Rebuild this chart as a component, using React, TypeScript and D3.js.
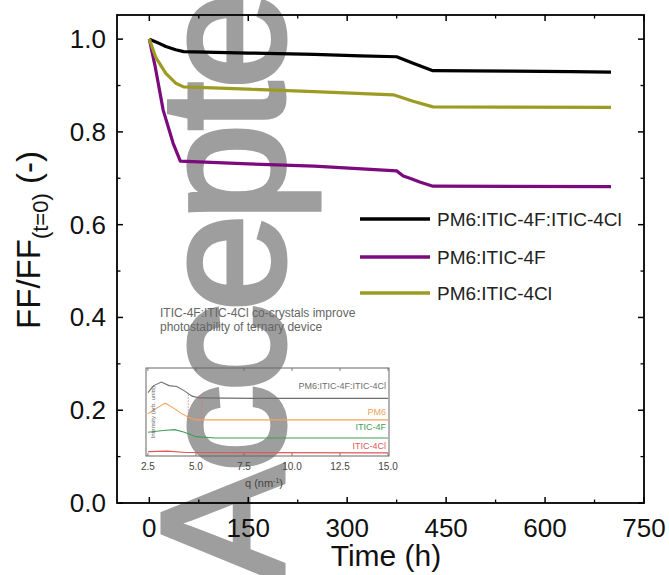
import React from "react";
import * as d3 from "d3";

// ---------- main data ----------
const seriesNames = ["PM6:ITIC-4F:ITIC-4Cl", "PM6:ITIC-4F", "PM6:ITIC-4Cl"];
const seriesColors = ["#000000", "#7a0a7e", "#9c9c24"];

const ternaryT = [0, 10, 25, 40, 52, 150, 250, 320, 375, 400, 430, 550, 640, 700];
const ternaryFF = [1.0, 0.994, 0.984, 0.977, 0.973, 0.97, 0.967, 0.964, 0.962, 0.948, 0.932, 0.931, 0.93, 0.929];

const itic4fT = [0, 9, 21, 36, 47, 150, 250, 375, 385, 395, 410, 430, 700];
const itic4fFF = [1.0, 0.94, 0.847, 0.776, 0.737, 0.731, 0.726, 0.716, 0.705, 0.7, 0.692, 0.683, 0.682];

const itic4clT = [0, 10, 25, 40, 52, 150, 250, 370, 400, 430, 700];
const itic4clFF = [1.0, 0.96, 0.926, 0.905, 0.897, 0.892, 0.887, 0.88, 0.866, 0.854, 0.853];

const xMajorTicks = [0, 150, 300, 450, 600, 750];
const xMinorTicks = [75, 225, 375, 525, 675];
const yMajorTicks = [0, 0.2, 0.4, 0.6, 0.8, 1.0];
const yMinorTicks = [0.1, 0.3, 0.5, 0.7, 0.9];

// ---------- inset data ----------
const insetNames = ["PM6:ITIC-4F:ITIC-4Cl", "PM6", "ITIC-4F", "ITIC-4Cl"];
const insetColors = ["#6e6e6e", "#f2a35a", "#3f9e5a", "#e2575a"];
const insetTicks = [2.5, 5.0, 7.5, 10.0, 12.5, 15.0];
const ternaryQ = [2.5, 2.8, 3.2, 3.6, 4.0, 4.4, 4.8, 5.2, 8, 15];
const ternaryI = [0.72, 0.8, 0.84, 0.8, 0.79, 0.74, 0.68, 0.66, 0.655, 0.655];
const pm6Q = [2.5, 3.0, 3.4, 3.8, 4.2, 4.6, 5.0, 15];
const pm6I = [0.48, 0.55, 0.6, 0.55, 0.49, 0.44, 0.41, 0.41];
const f4Q = [2.5, 3.3, 3.9, 4.4, 5.0, 6.0, 15];
const f4I = [0.27, 0.29, 0.3, 0.27, 0.22, 0.205, 0.205];
const cl4Q = [2.5, 3.5, 4.5, 15];
const cl4I = [0.05, 0.055, 0.04, 0.035];
const insetMarkers = [4.6, 5.3];

const FONT = "'Liberation Sans', Arial, Helvetica, sans-serif";

export default function App() {
  const W = 669;
  const H = 575;
  const x = d3.scaleLinear().domain([-49, 750]).range([117, 644]);
  const y = d3.scaleLinear().domain([0, 1.052]).range([503, 15]);

  const line = d3
    .line<[number, number]>()
    .x((d) => x(d[0]))
    .y((d) => y(d[1]));

  const series = [
    { t: ternaryT, v: ternaryFF },
    { t: itic4fT, v: itic4fFF },
    { t: itic4clT, v: itic4clFF },
  ];

  const left = x.range()[0];
  const right = x.range()[1];
  const top = y.range()[1];
  const bottom = y.range()[0];

  // inset scales
  const qx = d3.scaleLinear().domain([2.4, 15.05]).range([146, 389]);
  const iy = d3.scaleLinear().domain([0, 1]).range([456, 368]);
  const iLine = d3
    .line<[number, number]>()
    .x((d) => qx(d[0]))
    .y((d) => iy(d[1]));
  const insetSeries = [
    { q: ternaryQ, v: ternaryI },
    { q: pm6Q, v: pm6I },
    { q: f4Q, v: f4I },
    { q: cl4Q, v: cl4I },
  ];
  const insetLabelY = [0.79, 0.5, 0.33, 0.11];

  const legendY = [219, 257, 293];

  return (
    <svg width={W} height={H} style={{ position: "absolute", left: 0, top: 0, background: "#fff" }}>
      <rect x={0} y={0} width={W} height={H} fill="#fff" />
      {/* watermark */}
      <text
        transform="translate(283,582) rotate(-90)"
        fontFamily={FONT}
        fontSize={175}
        letterSpacing={-7}
        fill="#9e9e9e"
        stroke="#9e9e9e"
        strokeWidth={5}
      >
        Accepted
      </text>

      {/* data lines */}
      {series.map((s, i) => (
        <path
          key={i}
          d={line(s.t.map((t, j) => [t, s.v[j]] as [number, number])) || ""}
          fill="none"
          stroke={seriesColors[i]}
          strokeWidth={3.2}
          strokeLinejoin="round"
        />
      ))}

      {/* frame */}
      <rect x={left} y={top} width={right - left} height={bottom - top} fill="none" stroke="#000" strokeWidth={1.8} />

      {/* x ticks */}
      {xMajorTicks.map((t) => (
        <g key={"xm" + t}>
          <line x1={x(t)} x2={x(t)} y1={bottom} y2={bottom - 6} stroke="#000" strokeWidth={1.5} />
          <line x1={x(t)} x2={x(t)} y1={top} y2={top + 6} stroke="#000" strokeWidth={1.5} />
          <text x={x(t)} y={537} textAnchor="middle" fontFamily={FONT} fontSize={26} fill="#111">
            {t}
          </text>
        </g>
      ))}
      {xMinorTicks.map((t) => (
        <g key={"xn" + t}>
          <line x1={x(t)} x2={x(t)} y1={bottom} y2={bottom - 3.5} stroke="#000" strokeWidth={1.3} />
          <line x1={x(t)} x2={x(t)} y1={top} y2={top + 3.5} stroke="#000" strokeWidth={1.3} />
        </g>
      ))}
      {/* y ticks */}
      {yMajorTicks.map((v) => (
        <g key={"ym" + v}>
          <line x1={left} x2={left + 6} y1={y(v)} y2={y(v)} stroke="#000" strokeWidth={1.5} />
          <line x1={right} x2={right - 6} y1={y(v)} y2={y(v)} stroke="#000" strokeWidth={1.5} />
          <text x={106} y={y(v) + 9} textAnchor="end" fontFamily={FONT} fontSize={26} fill="#111">
            {v.toFixed(1)}
          </text>
        </g>
      ))}
      {yMinorTicks.map((v) => (
        <g key={"yn" + v}>
          <line x1={left} x2={left + 3.5} y1={y(v)} y2={y(v)} stroke="#000" strokeWidth={1.3} />
          <line x1={right} x2={right - 3.5} y1={y(v)} y2={y(v)} stroke="#000" strokeWidth={1.3} />
        </g>
      ))}

      {/* axis titles */}
      <text x={386} y={566} textAnchor="middle" fontFamily={FONT} fontSize={30} fill="#111">
        Time (h)
      </text>
      <text transform="translate(40,240) rotate(-90)" textAnchor="middle" fontFamily={FONT} fontSize={33} fill="#111">
        FF/FF
        <tspan fontSize={22} dy={8}>
          (t=0)
        </tspan>
        <tspan dy={-8}> (-)</tspan>
      </text>

      {/* legend */}
      {seriesNames.map((n, i) => (
        <g key={n}>
          <line x1={360} x2={430} y1={legendY[i]} y2={legendY[i]} stroke={seriesColors[i]} strokeWidth={3.5} />
          <text x={437} y={legendY[i] + 7} fontFamily={FONT} fontSize={19} fill="#222">
            {n}
          </text>
        </g>
      ))}

      {/* inset annotation */}
      <text x={160} y={317} fontFamily={FONT} fontSize={12} fill="#666">
        ITIC-4F:ITIC-4Cl co-crystals improve
      </text>
      <text x={160} y={331} fontFamily={FONT} fontSize={12} fill="#666">
        photostability of ternary device
      </text>

      {/* inset */}
      <g>
        {insetSeries.map((s, i) => (
          <path
            key={i}
            d={iLine(s.q.map((q, j) => [q, s.v[j]] as [number, number])) || ""}
            fill="none"
            stroke={insetColors[i]}
            strokeWidth={1.1}
          />
        ))}
        {insetMarkers.map((q) => (
          <line key={q} x1={qx(q)} x2={qx(q)} y1={iy(0.7)} y2={iy(0.38)} stroke="#e27070" strokeWidth={0.8} strokeDasharray="1.5,1.5" />
        ))}
        <rect x={qx.range()[0]} y={iy.range()[1]} width={qx.range()[1] - qx.range()[0]} height={iy.range()[0] - iy.range()[1]} fill="none" stroke="#666" strokeWidth={1} />
        {insetTicks.map((q) => (
          <g key={q}>
            <line x1={qx(q)} x2={qx(q)} y1={iy.range()[1]} y2={iy.range()[1] + 3} stroke="#666" strokeWidth={0.8} />
            <line x1={qx(q)} x2={qx(q)} y1={iy.range()[0]} y2={iy.range()[0] - 3} stroke="#666" strokeWidth={0.8} />
            <text x={qx(q)} y={470} textAnchor="middle" fontFamily={FONT} fontSize={10} fill="#444">
              {q.toFixed(1)}
            </text>
          </g>
        ))}
        <text x={264} y={487} textAnchor="middle" fontFamily={FONT} fontSize={11} fill="#444">
          q (nm
          <tspan fontSize={7} dy={-4}>
            -1
          </tspan>
          <tspan dy={4}>)</tspan>
        </text>
        <text transform="translate(155,412) rotate(-90)" textAnchor="middle" fontFamily={FONT} fontSize={6} fill="#666">
          Intensity (arb. units)
        </text>
        {insetNames.map((n, i) => (
          <text key={n} x={386} y={iy(insetLabelY[i]) + 3} textAnchor="end" fontFamily={FONT} fontSize={9} fill={insetColors[i]}>
            {n}
          </text>
        ))}
      </g>
    </svg>
  );
}
